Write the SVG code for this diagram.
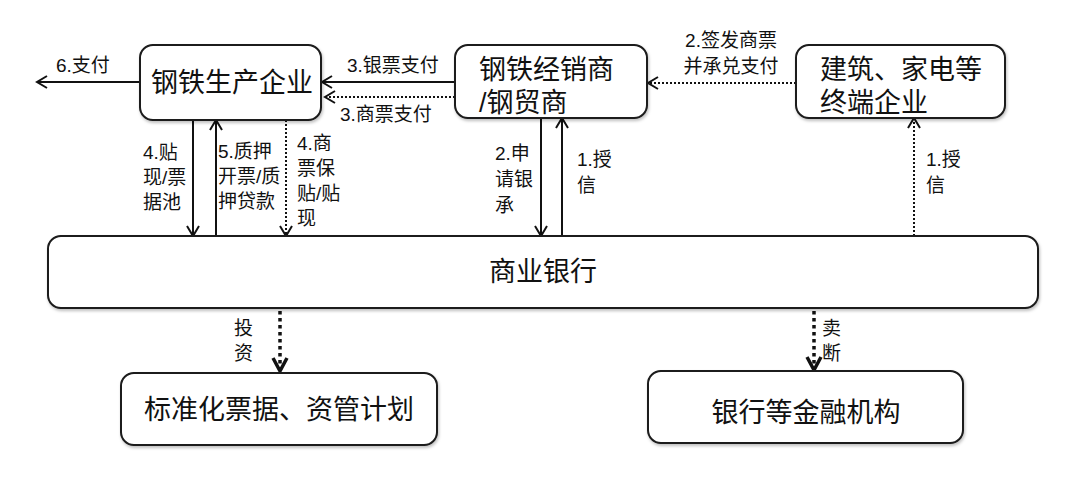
<svg xmlns="http://www.w3.org/2000/svg" width="1080" height="479" viewBox="0 0 1080 479">
<style>
.box{fill:#fff;stroke:#1a1a1a;stroke-width:2}
.t{font-family:"Liberation Sans","Noto Sans CJK SC",sans-serif;fill:#111}
.big{font-size:27px}
.sm{font-size:19px}
.ln{stroke:#111;stroke-width:2;fill:none}
.dot{stroke:#111;stroke-width:2;fill:none;stroke-dasharray:2 2}
.thick{stroke:#111;stroke-width:3.5;fill:none;stroke-dasharray:3.5 3.5}
</style>
<defs>
<marker id="ah" markerUnits="userSpaceOnUse" markerWidth="14" markerHeight="14" refX="12" refY="7" orient="auto">
<path d="M2,1 L12,7 L2,13" fill="none" stroke="#111" stroke-width="2"/>
</marker>
<marker id="ahb" markerUnits="userSpaceOnUse" markerWidth="16" markerHeight="18" refX="14" refY="9" orient="auto">
<path d="M1,2 L14,9 L1,16" fill="none" stroke="#111" stroke-width="3.5"/>
</marker>
<filter id="sh" x="-5%" y="-10%" width="110%" height="130%">
<feDropShadow dx="1" dy="2" stdDeviation="1.5" flood-color="#000" flood-opacity="0.25"/>
</filter>
</defs>

<g id="connectors">
<line class="ln" x1="140" y1="82" x2="37" y2="82" marker-end="url(#ah)"/>
<line class="ln" x1="455" y1="82" x2="322" y2="82" marker-end="url(#ah)"/>
<line class="dot" x1="455" y1="97" x2="325" y2="97" marker-end="url(#ah)"/>
<line class="dot" x1="796" y1="83" x2="648" y2="83" marker-end="url(#ah)"/>
<line class="ln" x1="193" y1="120" x2="193" y2="236" marker-end="url(#ah)"/>
<line class="ln" x1="216" y1="236" x2="216" y2="120" marker-end="url(#ah)"/>
<line class="dot" x1="286" y1="120" x2="286" y2="236" marker-end="url(#ah)"/>
<line class="ln" x1="541" y1="118" x2="541" y2="236" marker-end="url(#ah)"/>
<line class="ln" x1="562" y1="236" x2="562" y2="118" marker-end="url(#ah)"/>
<line class="dot" x1="914" y1="236" x2="914" y2="118" marker-end="url(#ah)"/>
<line class="thick" x1="280" y1="311" x2="280" y2="371" marker-end="url(#ahb)"/>
<line class="thick" x1="814" y1="311" x2="814" y2="370" marker-end="url(#ahb)"/>
<text class="t sm" x="56" y="72">6.支付</text>
<text class="t sm" x="347" y="72">3.银票支付</text>
<text class="t sm" x="340" y="121">3.商票支付</text>
<text class="t sm" x="731" y="47" text-anchor="middle">2.签发商票</text>
<text class="t sm" x="731" y="73" text-anchor="middle">并承兑支付</text>
<text class="t sm" x="143" y="159">4.贴</text>
<text class="t sm" x="143" y="184">现/票</text>
<text class="t sm" x="143" y="209">据池</text>
<text class="t sm" x="218" y="158">5.质押</text>
<text class="t sm" x="218" y="183">开票/质</text>
<text class="t sm" x="218" y="208">押贷款</text>
<text class="t sm" x="297" y="150">4.商</text>
<text class="t sm" x="297" y="175">票保</text>
<text class="t sm" x="297" y="200">贴/贴</text>
<text class="t sm" x="297" y="225">现</text>
<text class="t sm" x="495" y="160">2.申</text>
<text class="t sm" x="495" y="186">请银</text>
<text class="t sm" x="495" y="212">承</text>
<text class="t sm" x="577" y="166">1.授</text>
<text class="t sm" x="577" y="192">信</text>
<text class="t sm" x="926" y="166">1.授</text>
<text class="t sm" x="926" y="192">信</text>
<text class="t sm" x="234" y="335">投</text>
<text class="t sm" x="234" y="360">资</text>
<text class="t sm" x="822" y="335">卖</text>
<text class="t sm" x="822" y="360">断</text>
</g>

<g id="producer">
<rect class="box" filter="url(#sh)" x="140" y="45" width="181" height="75" rx="13"/>
<text class="t big" x="232" y="92" text-anchor="middle">钢铁生产企业</text>
</g>
<g id="dealer">
<rect class="box" filter="url(#sh)" x="455" y="45" width="192" height="73" rx="13"/>
<text class="t big" x="479" y="79">钢铁经销商</text>
<text class="t big" x="479" y="112">/钢贸商</text>
</g>
<g id="enduser">
<rect class="box" filter="url(#sh)" x="796" y="45" width="209" height="73" rx="13"/>
<text class="t big" x="820" y="79">建筑、家电等</text>
<text class="t big" x="820" y="112">终端企业</text>
</g>
<g id="bank">
<rect class="box" filter="url(#sh)" x="48" y="236" width="990" height="72" rx="13"/>
<text class="t big" x="543" y="281" text-anchor="middle">商业银行</text>
</g>
<g id="standard">
<rect class="box" filter="url(#sh)" x="121" y="373" width="316" height="72" rx="13"/>
<text class="t big" x="279" y="419" text-anchor="middle">标准化票据、资管计划</text>
</g>
<g id="institutions">
<rect class="box" filter="url(#sh)" x="648" y="371" width="315" height="72" rx="13"/>
<text class="t big" x="806" y="422" text-anchor="middle">银行等金融机构</text>
</g>
</svg>
